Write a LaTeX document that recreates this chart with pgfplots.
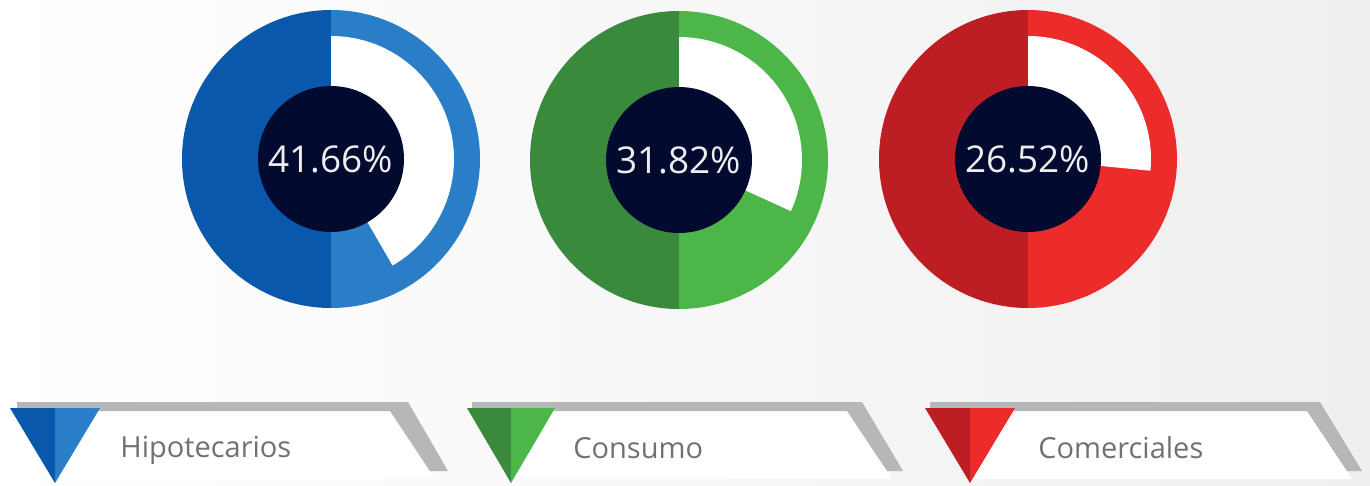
\documentclass[border=0pt]{standalone}
\usepackage{fontspec}
\setmainfont{Open Sans}
\usepackage{pgfplots}
\pgfplotsset{compat=1.18}

\definecolor{bluedark}{HTML}{0A58AB}
\definecolor{bluelight}{HTML}{2A7DC7}
\definecolor{greendark}{HTML}{3A8A3D}
\definecolor{greenlight}{HTML}{4CB748}
\definecolor{reddark}{HTML}{BD1E24}
\definecolor{redlight}{HTML}{EC2C2A}
\definecolor{navy}{HTML}{030A30}
\definecolor{bandgray}{HTML}{B5B7B9}
\definecolor{labelgray}{HTML}{6F7174}
\definecolor{pctwhite}{HTML}{EEEEEE}
\definecolor{bgright}{HTML}{EFEFEF}

% one pixel of the reference
\newcommand\pxu{0.2mm}

% gauge: centre x, centre y, value (%), dark colour, light colour
\newcommand\gauge[5]{%
  \fill[#4] (axis cs:#1,#2) ++(90:149*\pxu) arc[start angle=90,end angle=270,radius=149*\pxu] -- cycle;
  \fill[#5] (axis cs:#1,#2) ++(90:149*\pxu) arc[start angle=90,end angle=-90,radius=149*\pxu] -- cycle;
  \fill[white] (axis cs:#1,#2) -- ++(90:123*\pxu) arc[start angle=90,end angle={90-3.6*#3},radius=123*\pxu] -- cycle;
  \fill[navy] (axis cs:#1,#2) circle[radius=73*\pxu];
  \node[text=pctwhite,font=\fontsize{21}{25}\selectfont] at (axis cs:#1,#2) {#3\%};
}

\begin{document}
\begin{tikzpicture}
\begin{axis}[
    x=\pxu, y=\pxu,
    xmin=0, xmax=1370, ymin=0, ymax=485,
    y dir=reverse,
    hide axis,
    clip=false,
]
% background
\addplot[draw=none, left color=white, right color=bgright]
  coordinates {(0,0) (1370,0) (1370,485) (0,485)} -- cycle;

% gauges
\gauge{331}{159}{41.66}{bluedark}{bluelight}
\gauge{679}{160}{31.82}{greendark}{greenlight}
\gauge{1028}{159}{26.52}{reddark}{redlight}

% banners: panel, grey band, split triangle
\addplot[draw=none, fill=white] coordinates {(55,411) (390,411) (435,479) (55,479)} -- cycle;
\addplot[draw=none, fill=bandgray] coordinates {(17,402) (408,402) (448,471) (430,471) (390,411) (17,411)} -- cycle;
\addplot[draw=none, fill=bluedark] coordinates {(10,408) (55,408) (55,483)} -- cycle;
\addplot[draw=none, fill=bluelight] coordinates {(55,408) (100,408) (55,483)} -- cycle;

\addplot[draw=none, fill=white] coordinates {(511,411) (847,411) (892,479) (511,479)} -- cycle;
\addplot[draw=none, fill=bandgray] coordinates {(472,402) (862,402) (903,471) (887,471) (847,411) (472,411)} -- cycle;
\addplot[draw=none, fill=greendark] coordinates {(467,408) (511,408) (511,483)} -- cycle;
\addplot[draw=none, fill=greenlight] coordinates {(511,408) (555,408) (511,483)} -- cycle;

\addplot[draw=none, fill=white] coordinates {(970,411) (1307,411) (1352,479) (970,479)} -- cycle;
\addplot[draw=none, fill=bandgray] coordinates {(930,402) (1320,402) (1362,471) (1347,471) (1307,411) (930,411)} -- cycle;
\addplot[draw=none, fill=reddark] coordinates {(925,408) (970,408) (970,483)} -- cycle;
\addplot[draw=none, fill=redlight] coordinates {(970,408) (1015,408) (970,483)} -- cycle;

\node[anchor=base west, text=labelgray, font=\fontsize{16.5}{20}\selectfont, inner sep=0pt] at (axis cs:120,457) {Hipotecarios};
\node[anchor=base west, text=labelgray, font=\fontsize{16.5}{20}\selectfont, inner sep=0pt] at (axis cs:573,458) {Consumo};
\node[anchor=base west, text=labelgray, font=\fontsize{16.5}{20}\selectfont, inner sep=0pt] at (axis cs:1038,458) {Comerciales};
\end{axis}
\end{tikzpicture}
\end{document}
